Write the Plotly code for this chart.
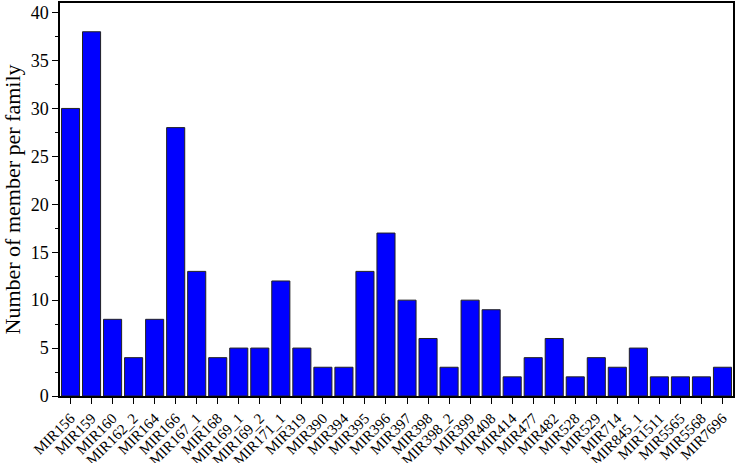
import plotly.graph_objects as go

families = ["MIR156", "MIR159", "MIR160", "MIR162_2", "MIR164", "MIR166", "MIR167_1", "MIR168",
            "MIR169_1", "MIR169_2", "MIR171_1", "MIR319", "MIR390", "MIR394", "MIR395", "MIR396",
            "MIR397", "MIR398", "MIR398_2", "MIR399", "MIR408", "MIR414", "MIR477", "MIR482",
            "MIR528", "MIR529", "MIR714", "MIR845_1", "MIR1511", "MIR5565", "MIR5568", "MIR7696"]
members = [30, 38, 8, 4, 8, 28, 13, 4, 5, 5, 12, 5, 3, 3, 13, 17, 10, 6, 3, 10, 9, 2, 4, 6,
           2, 4, 3, 5, 2, 2, 2, 3]
y_ticks = [0, 5, 10, 15, 20, 25, 30, 35, 40]

fig = go.Figure(go.Bar(
    x=families, y=members,
    marker=dict(color="#0000FF", line=dict(color="#222222", width=1)),
))

font = "Liberation Serif, Times New Roman, serif"
fig.update_layout(
    width=737, height=463,
    margin=dict(l=60, r=4, t=3, b=67),
    plot_bgcolor="white", paper_bgcolor="white",
    bargap=0.14,
    font=dict(family=font, size=14, color="black"),
    showlegend=False,
)
fig.update_xaxes(
    type="category", tickangle=-45, showline=True, linecolor="black", linewidth=1.5,
    mirror=True, ticks="outside", ticklen=6, tickcolor="black", showgrid=False,
    tickfont=dict(family=font, size=15), range=[-0.5, len(families) - 0.5],
    automargin=False,
)
fig.update_yaxes(
    range=[0, 41], tickvals=y_ticks, showline=True, linecolor="black", linewidth=1.5,
    mirror=True, ticks="outside", ticklen=6, tickcolor="black", showgrid=False, zeroline=False,
    tickfont=dict(family=font, size=18), automargin=False,
    minor=dict(ticks="outside", ticklen=3, dtick=2.5, tickcolor="black", showgrid=False),
    title=dict(text="Number of member per family", font=dict(family=font, size=22), standoff=4),
)

fig.write_html("out.html", config={"displayModeBar": False},
               post_script="document.body.style.margin='0';document.body.style.overflow='hidden';")
